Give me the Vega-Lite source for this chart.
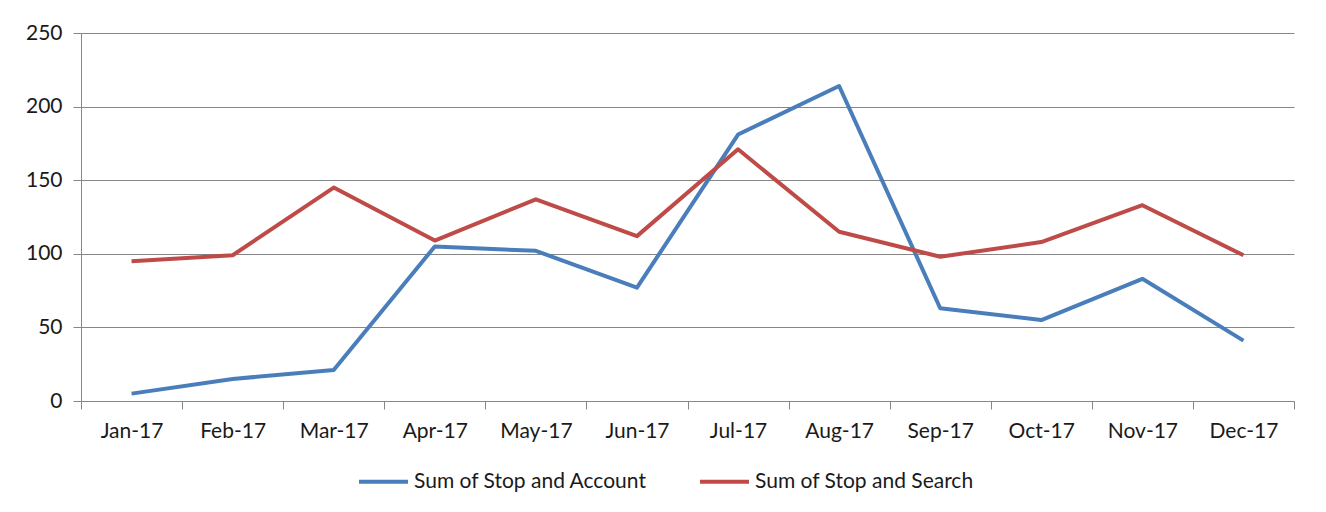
{
  "$schema": "https://vega.github.io/schema/vega-lite/v6.json",
  "width": 1213,
  "height": 368,
  "autosize": {"type": "none"},
  "padding": {"left": 81, "top": 33, "right": 32, "bottom": 111},
  "background": "#ffffff",
  "config": {
    "font": "Lato",
    "view": {"stroke": null},
    "axis": {"labelFont": "Lato", "labelColor": "#1a1a1a", "domainColor": "#868686", "tickColor": "#868686", "gridColor": "#868686", "gridOpacity": 1, "domainWidth": 1, "tickWidth": 1, "gridWidth": 1}
  },
  "data": {
    "values": [
      {"month": "Jan-17", "series": "Sum of Stop and Account", "value": 5},
      {"month": "Feb-17", "series": "Sum of Stop and Account", "value": 15},
      {"month": "Mar-17", "series": "Sum of Stop and Account", "value": 21},
      {"month": "Apr-17", "series": "Sum of Stop and Account", "value": 105},
      {"month": "May-17", "series": "Sum of Stop and Account", "value": 102},
      {"month": "Jun-17", "series": "Sum of Stop and Account", "value": 77},
      {"month": "Jul-17", "series": "Sum of Stop and Account", "value": 181},
      {"month": "Aug-17", "series": "Sum of Stop and Account", "value": 214},
      {"month": "Sep-17", "series": "Sum of Stop and Account", "value": 63},
      {"month": "Oct-17", "series": "Sum of Stop and Account", "value": 55},
      {"month": "Nov-17", "series": "Sum of Stop and Account", "value": 83},
      {"month": "Dec-17", "series": "Sum of Stop and Account", "value": 41},
      {"month": "Jan-17", "series": "Sum of Stop and Search", "value": 95},
      {"month": "Feb-17", "series": "Sum of Stop and Search", "value": 99},
      {"month": "Mar-17", "series": "Sum of Stop and Search", "value": 145},
      {"month": "Apr-17", "series": "Sum of Stop and Search", "value": 109},
      {"month": "May-17", "series": "Sum of Stop and Search", "value": 137},
      {"month": "Jun-17", "series": "Sum of Stop and Search", "value": 112},
      {"month": "Jul-17", "series": "Sum of Stop and Search", "value": 171},
      {"month": "Aug-17", "series": "Sum of Stop and Search", "value": 115},
      {"month": "Sep-17", "series": "Sum of Stop and Search", "value": 98},
      {"month": "Oct-17", "series": "Sum of Stop and Search", "value": 108},
      {"month": "Nov-17", "series": "Sum of Stop and Search", "value": 133},
      {"month": "Dec-17", "series": "Sum of Stop and Search", "value": 99}
    ]
  },
  "mark": {"type": "line", "strokeWidth": 4, "strokeJoin": "round"},
  "encoding": {
    "x": {
      "field": "month", "type": "ordinal", "sort": null, "title": null,
      "scale": {"type": "band", "paddingInner": 0, "paddingOuter": 0},
      "axis": {"labelAngle": 0, "tickBand": "extent", "tickSize": 8, "labelPadding": 11, "labelFontSize": 21, "grid": false}
    },
    "y": {
      "field": "value", "type": "quantitative", "title": null,
      "scale": {"domain": [0, 250], "nice": false},
      "axis": {"values": [0, 50, 100, 150, 200, 250], "tickSize": 8, "labelPadding": 11, "labelFontSize": 21, "grid": true, "domain": true}
    },
    "color": {
      "field": "series", "type": "nominal", "title": null,
      "scale": {"domain": ["Sum of Stop and Account", "Sum of Stop and Search"], "range": ["#4a7ebb", "#be4b48"]},
      "legend": {"orient": "none", "legendX": 276, "legendY": 422, "direction": "horizontal", "symbolType": "stroke", "symbolSize": 2400, "symbolStrokeWidth": 4, "labelFontSize": 21, "labelFont": "Lato", "labelColor": "#1a1a1a", "labelLimit": 0, "columnPadding": 44, "labelOffset": 4, "symbolOffset": 0}
    }
  }
}
